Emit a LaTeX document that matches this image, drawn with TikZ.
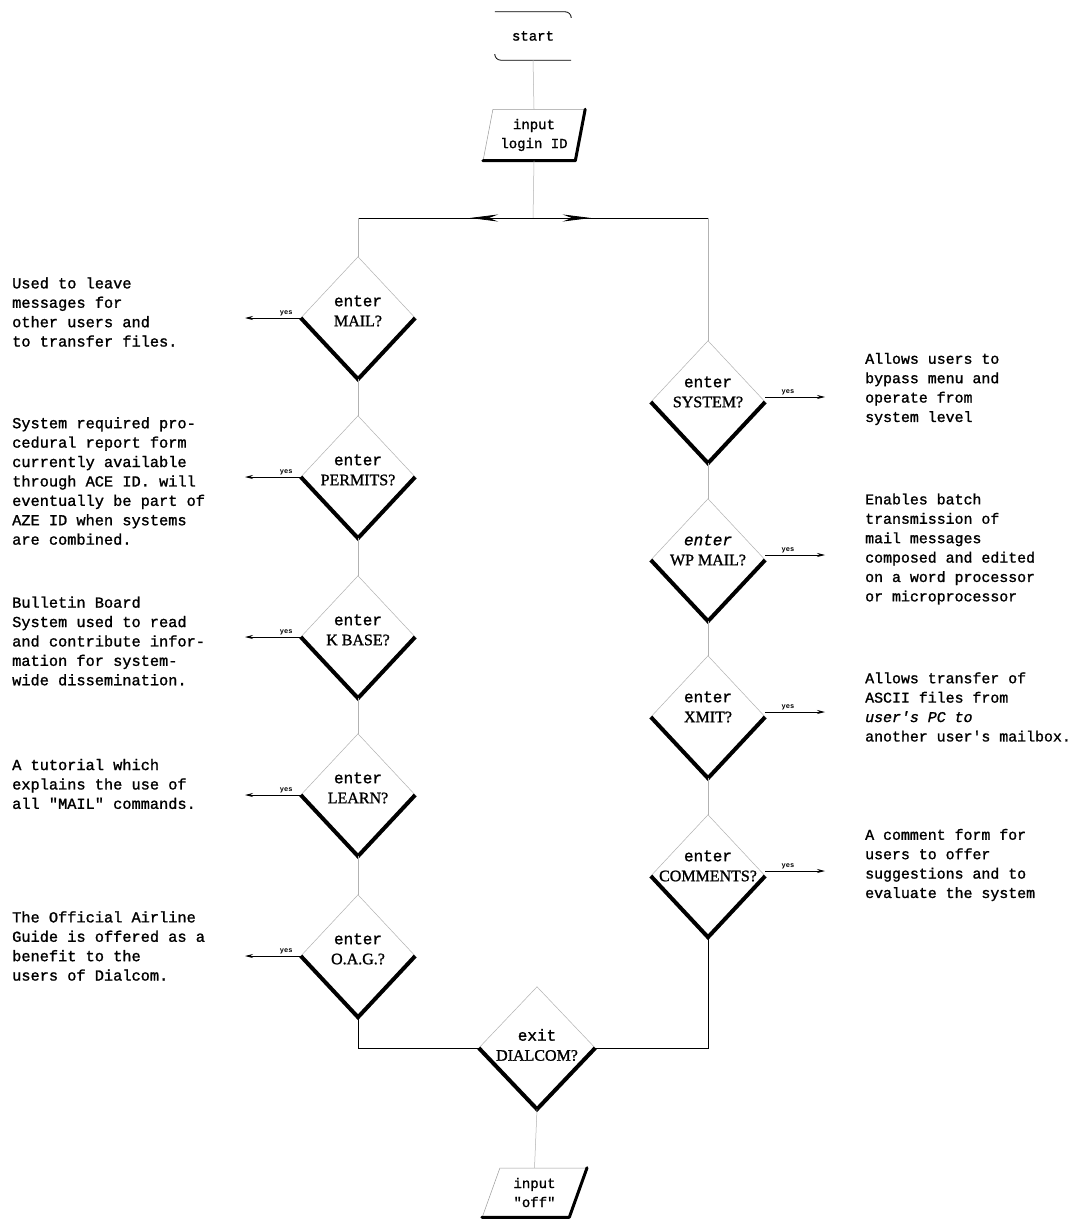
\documentclass[tikz,border=0pt]{standalone}
\usepackage{fontspec}
\setmainfont{Liberation Mono}[UprightFeatures={FakeBold=1.3},ItalicFeatures={FakeBold=1.3}]
\newfontfamily\capsfont{Liberation Serif}[UprightFeatures={FakeBold=1.2}]
\usetikzlibrary{shapes.geometric,arrows.meta,decorations.markings}
\tikzset{
  dia/.style={diamond,minimum width=114pt,minimum height=122pt,inner sep=0pt},
  dlabel/.style={align=center,inner sep=0pt,font=\fontsize{16}{20}\selectfont},
  note/.style={align=left,anchor=west,inner sep=0pt,font=\fontsize{15.3}{19.4}\selectfont},
  rnote/.style={note,font=\fontsize{14.9}{19.4}\selectfont},
  faint/.style={draw=black!30,line width=0.5pt},
  conn/.style={draw=black,line width=0.8pt},
  thickedge/.style={draw=black,line width=4pt,line join=miter,line cap=butt},
  ioedge/.style={draw=black,line width=3pt,line join=round,line cap=round},
  yesarrow/.style={draw=black,line width=0.8pt,-{Stealth[length=8pt,width=4pt]}},
  yeslabel/.style={font=\bfseries\fontsize{7}{8}\selectfont,inner sep=2pt},
  io/.style={trapezium,trapezium stretches=true,inner sep=0pt,align=center,
    draw=black!40,line width=0.5pt,font=\fontsize{14}{19}\selectfont},
  term/.style={minimum width=76pt,minimum height=48pt,inner sep=0pt,font=\fontsize{14}{16}\selectfont},
  bigarrow/.style={postaction={decorate},decoration={markings,
    mark=at position #1 with {\arrow{Stealth[length=28pt,width=7pt]}}}}
}
\begin{document}
\begin{tikzpicture}[x=1pt,y=-1pt]
\useasboundingbox[fill=white] (0,0) rectangle (1081,1222);

% start terminal
\node[term] (start) at (533,36) {start};
\draw[conn,rounded corners=6pt] (start.north west) -- (start.north east) -- ([yshift=-5pt]start.north east);
\draw[conn,rounded corners=6pt] ([yshift=5pt]start.south west) -- (start.south west) -- (start.south east);

% input login ID
\node[io,trapezium left angle=76,trapezium right angle=104,minimum width=102pt,minimum height=51pt]
  (login) at (534,135) {input\\login ID};
\draw[ioedge] (login.top right corner) -- (login.bottom right corner) -- (login.bottom left corner);

\draw[faint] (start.south) -- (login.north);

% split
\coordinate (split) at (533,218);
\coordinate (splitL) at (358,218);
\coordinate (splitR) at (708,218);
\draw[faint] (login.south) -- (split);
\draw[conn,bigarrow=0.36] (split) -- (splitL);
\draw[conn,bigarrow=0.33] (split) -- (splitR);

% left diamonds
\foreach \n/\y in {mail/318,permits/477,kbase/637,learn/795,oag/956}{
  \node[dia] (\n) at (358,\y) {};
}
% right diamonds
\foreach \n/\y in {system/402,wpmail/560,xmit/717,comments/876}{
  \node[dia] (\n) at (708,\y) {};
}
\node[dia,minimum width=116pt] (dialcom) at (537,1048) {};

\foreach \n in {mail,permits,kbase,learn,oag,system,wpmail,xmit,comments,dialcom}{
  \draw[faint] (\n.west) -- (\n.north) -- (\n.east);
  \draw[thickedge] (\n.west) -- (\n.south) -- (\n.east);
}

% diamond labels
\node[dlabel] (mailt) at (358,311) {enter\\{\capsfont MAIL?}};
\node[dlabel] (permitst) at (358,470) {enter\\{\capsfont PERMITS?}};
\node[dlabel] (kbaset) at (358,630) {enter\\{\capsfont K BASE?}};
\node[dlabel] (learnt) at (358,788) {enter\\{\capsfont LEARN?}};
\node[dlabel] (oagt) at (358,949) {enter\\{\capsfont O.A.G.?}};
\node[dlabel] (systemt) at (708,392) {enter\\{\capsfont SYSTEM?}};
\node[dlabel] (wpmailt) at (708,550) {\textit{enter}\\{\capsfont WP MAIL?}};
\node[dlabel] (xmitt) at (708,707) {enter\\{\capsfont XMIT?}};
\node[dlabel] (commentst) at (708,866) {enter\\{\capsfont COMMENTS?}};
\node[dlabel] (dialcomt) at (537,1045) {exit\\{\capsfont DIALCOM?}};

% column connectors
\draw[faint] (splitL) -- (mail.north);
\draw[faint] (mail.south) -- (permits.north);
\draw[faint] (permits.south) -- (kbase.north);
\draw[faint] (kbase.south) -- (learn.north);
\draw[faint] (learn.south) -- (oag.north);
\draw[faint] (splitR) -- (system.north);
\draw[faint] (system.south) -- (wpmail.north);
\draw[faint] (wpmail.south) -- (xmit.north);
\draw[faint] (xmit.south) -- (comments.north);
\draw[conn] (oag.south) |- (dialcom.west);
\draw[conn] (comments.south) |- (dialcom.east);

% input off
\node[io,trapezium left angle=70,trapezium right angle=110,minimum width=105pt,minimum height=49pt]
  (off) at (534.5,1192.5) {input\\\textquotedbl off\textquotedbl};
\draw[ioedge] (off.top right corner) -- (off.bottom right corner) -- (off.bottom left corner);
\draw[faint] (dialcom.south) -- (off.north);

% yes arrows left
\foreach \n in {mail,permits,kbase,learn,oag}{
  \coordinate (\n yes) at (245,0 |- \n.west);
  \draw[yesarrow] (\n.west) -- node[yeslabel,pos=0.26,above] {yes} (\n yes);
}
% yes arrows right
\foreach \n in {system,wpmail,xmit,comments}{
  \coordinate (\n yes) at ([yshift=5pt]\n.east -| 825,0);
  \draw[yesarrow] ([yshift=5pt]\n.east) -- node[yeslabel,pos=0.38,above] {yes} (\n yes);
}

% notes left
\node[note] (mailn) at (12,312) {Used to leave\\messages for\\other users and\\to transfer files.};
\node[note] (permitsn) at (12,481) {System required pro-\\cedural report form\\currently available\\through ACE ID. will\\eventually be part of\\AZE ID when systems\\are combined.};
\node[note] (kbasen) at (12,641) {Bulletin Board\\System used to read\\and contribute infor-\\mation for system-\\wide dissemination.};
\node[note] (learnn) at (12,784) {A tutorial which\\explains the use of\\all \textquotedbl MAIL\textquotedbl{} commands.};
\node[note] (oagn) at (12,946) {The Official Airline\\Guide is offered as a\\benefit to the\\users of Dialcom.};

% notes right
\node[rnote] (systemn) at (865,389) {Allows users to\\bypass menu and\\operate from\\system level};
\node[rnote] (wpmailn) at (865,549) {Enables batch\\transmission of\\mail messages\\composed and edited\\on a word processor\\or microprocessor};
\node[rnote] (xmitn) at (865,707) {Allows transfer of\\ASCII files from\\\textit{user\textquotesingle s PC to}\\another user\textquotesingle s mailbox.};
\node[rnote] (commentsn) at (865,865) {A comment form for\\users to offer\\suggestions and to\\evaluate the system};
\end{tikzpicture}
\end{document}
